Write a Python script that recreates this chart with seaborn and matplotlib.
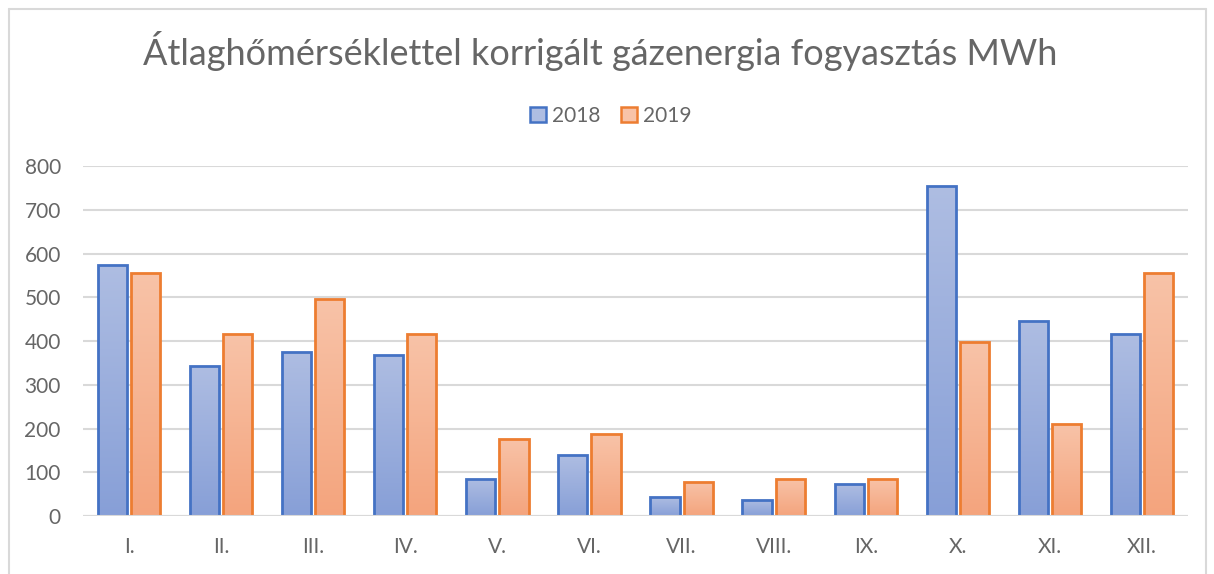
import numpy as np
import pandas as pd
import matplotlib
matplotlib.use("Agg")
import matplotlib.pyplot as plt
import seaborn as sns
from matplotlib.colors import LinearSegmentedColormap
from matplotlib.patches import Patch
from matplotlib.lines import Line2D

months = ["I.", "II.", "III.", "IV.", "V.", "VI.", "VII.", "VIII.", "IX.", "X.", "XI.", "XII."]
years = ["2018", "2019"]
v2018 = [573, 343, 375, 368, 85, 139, 43, 37, 73, 754, 446, 416]
v2019 = [555, 416, 496, 416, 176, 187, 78, 85, 85, 398, 210, 555]
title = "Átlaghőmérséklettel korrigált gázenergia fogyasztás MWh"

df = pd.DataFrame({
    "month": months * 2,
    "year": [years[0]] * len(months) + [years[1]] * len(months),
    "value": v2018 + v2019,
})

sns.set_theme(style="white")
plt.rcParams["font.family"] = ["Lato", "DejaVu Sans"]

txt = "#666666"
edge = {"2018": "#4472C4", "2019": "#ED7D31"}
top_c = {"2018": "#AEBDE2", "2019": "#F8C3A8"}
bot_c = {"2018": "#879FD7", "2019": "#F4A47D"}

fig = plt.figure(figsize=(12.14, 5.74), dpi=100)
ax = fig.add_axes([0.0684, 0.1010, 0.9102, 0.6098])

sns.barplot(data=df, x="month", y="value", hue="year", order=months,
            hue_order=years, palette=edge, width=0.72, gap=0.12,
            ax=ax, legend=False, errorbar=None, zorder=3)

ax.set_ylim(0, 800)
ax.set_xlim(-0.5, len(months) - 0.5)
ax.set_yticks(range(0, 801, 100))
ax.yaxis.grid(True, color="#D9D9D9", linewidth=1.5, zorder=0)
ax.set_axisbelow(True)
for s in ax.spines.values():
    s.set_visible(False)
ax.set_xlabel("")
ax.set_ylabel("")
ax.tick_params(axis="both", length=0, labelsize=15, labelcolor=txt)
ax.tick_params(axis="x", pad=15)
ax.tick_params(axis="y", pad=16)

# gradient fills
patches = list(ax.patches)
n = len(months)
for i, p in enumerate(patches):
    yr = years[i // n]
    cmap = LinearSegmentedColormap.from_list("g", [bot_c[yr], top_c[yr]])
    x0, y0 = p.get_x(), p.get_y()
    w, h = p.get_width(), p.get_height()
    grad = np.linspace(0, 1, 256).reshape(-1, 1)
    im = ax.imshow(grad, cmap=cmap, origin="lower", aspect="auto",
                   extent=[x0, x0 + w, y0, y0 + h], zorder=3.5)
    im.set_clip_path(p)
    p.set_facecolor("none")
    p.set_edgecolor(edge[yr])
    p.set_linewidth(2.0)
    p.set_zorder(4)
ax.set_xlim(-0.5, len(months) - 0.5)
ax.set_ylim(0, 800)
ax.set_aspect("auto")

# baseline
ax.axhline(0, color="#D9D9D9", linewidth=1.5, zorder=5)

handles = [Patch(facecolor=top_c[y], edgecolor=edge[y], linewidth=1.8, label=y) for y in years]
fig.legend(handles=handles, loc="center", bbox_to_anchor=(0.503, 0.798), ncol=2,
           frameon=False, fontsize=15, handlelength=0.75, handleheight=0.75,
           handletextpad=0.3, columnspacing=1.0, labelcolor=txt)

fig.text(0.494, 0.912, title, ha="center", va="center", fontsize=26, color=txt)

# outer frame
fig.add_artist(Line2D([0.0075, 0.0075], [0, 0.985], transform=fig.transFigure, color="#D9D9D9", lw=1.5))
fig.add_artist(Line2D([0.0075, 0.993], [0.985, 0.985], transform=fig.transFigure, color="#D9D9D9", lw=1.5))
fig.add_artist(Line2D([0.993, 0.993], [0, 0.985], transform=fig.transFigure, color="#D9D9D9", lw=1.5))

fig.savefig("out.png", dpi=100, facecolor="white")
